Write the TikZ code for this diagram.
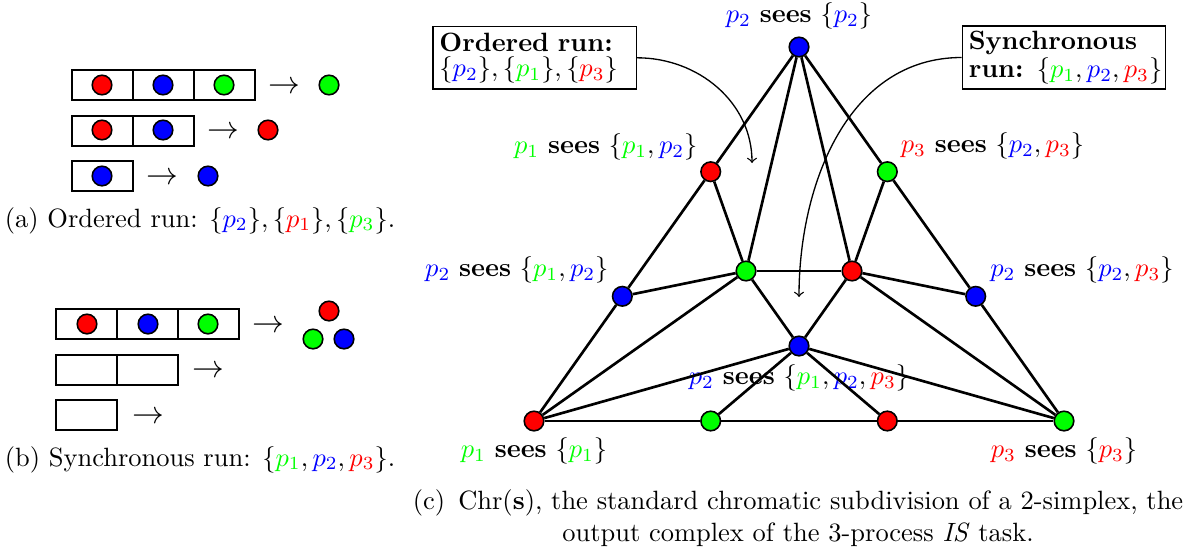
\documentclass[tikz,border=0pt]{standalone}
\usepackage{amsmath}
\usepackage{amssymb}
\usepackage{tikz}
\usetikzlibrary{positioning}

\newcommand{\pG}[1]{\textcolor{green}{p_{#1}}}
\newcommand{\pB}[1]{\textcolor{blue}{p_{#1}}}
\newcommand{\pR}[1]{\textcolor{red}{p_{#1}}}

\tikzset{
  vert/.style={circle, draw, fill=#1, minimum size=7.4pt, inner sep=0pt, line width=0.6pt},
  edge/.style={line width=1pt},
  cell/.style={line width=1pt},
  lbl/.style={inner sep=0pt},
  runbox/.style={draw, line width=0.6pt, align=left, text width=72pt, inner xsep=2.4pt, inner ysep=2pt, minimum height=23.6pt},
  goes/.style={font=\large},
}

\begin{document}
\begin{tikzpicture}[x=0.378pt,y=-0.378pt]
	\useasboundingbox (0,0) rectangle (1197,552);

	% (a) ordered run
	\foreach \n/\y in {3/70,2/116,1/161}
		\foreach \i in {1,...,\n}
			\draw[cell] (11+61*\i,\y) rectangle ++(61,30);
	\node[vert=red] (a11) at (102,85) {};
	\node[vert=blue] (a12) at (163,85) {};
	\node[vert=green] (a13) at (224,85) {};
	\node[goes] (a1to) at (284,88) {$\rightarrow$};
	\node[vert=green] (a1out) at (329,85) {};
	\node[vert=red] (a21) at (102,130) {};
	\node[vert=blue] (a22) at (163,130) {};
	\node[goes] (a2to) at (223,133) {$\rightarrow$};
	\node[vert=red] (a2out) at (268,130) {};
	\node[vert=blue] (a31) at (102,176) {};
	\node[goes] (a3to) at (162,179) {$\rightarrow$};
	\node[vert=blue] (a3out) at (208,176) {};
	\node[anchor=base] (capa) at (200,227) {(a) Ordered run: $\{\pB2\}, \{\pR1\}, \{\pG3\}$.};

	% (b) synchronous run
	\foreach \n/\y in {3/309,2/355,1/400}
		\foreach \i in {1,...,\n}
			\draw[cell] (-5+61*\i,\y) rectangle ++(61,30);
	\node[vert=red] (b11) at (87,324) {};
	\node[vert=blue] (b12) at (148,324) {};
	\node[vert=green] (b13) at (208,324) {};
	\node[goes] (b1to) at (268,327) {$\rightarrow$};
	\node[vert=red] (b1r) at (329,311) {};
	\node[vert=green] (b1g) at (313,339) {};
	\node[vert=blue] (b1b) at (344,339) {};
	\node[goes] (b2to) at (208,372) {$\rightarrow$};
	\node[goes] (b3to) at (148,418) {$\rightarrow$};
	\node[anchor=base] (capb) at (200,466) {(b) Synchronous run: $\{\pG1, \pB2, \pR3\}$.};

	% (c) chromatic subdivision
	\node[vert=blue] (vT) at (799,47) {};
	\node[vert=red] (vBL) at (534,421) {};
	\node[vert=green] (vBR) at (1064,421) {};
	\node[vert=red] (vL1) at (710.7,171.7) {};
	\node[vert=blue] (vL2) at (622.3,296.3) {};
	\node[vert=green] (vR1) at (887.3,171.7) {};
	\node[vert=blue] (vR2) at (975.7,296.3) {};
	\node[vert=green] (vB1) at (710.7,421) {};
	\node[vert=red] (vB2) at (887.3,421) {};
	\node[vert=green] (cg) at (746,271) {};
	\node[vert=red] (cr) at (852,271) {};
	\node[vert=blue] (cb) at (799,346) {};

	\node[lbl, above=2.5pt of vT] (lT) {$\pB2$ \textbf{sees} $\{\pB2\}$};
	\node[lbl, above left=1.5pt and 2pt of vL1] (lL1) {$\pG1$ \textbf{sees} $\{\pG1, \pB2\}$};
	\node[lbl, above left=1.9pt and 2.2pt of vL2] (lL2) {$\pB2$ \textbf{sees} $\{\pG1, \pB2\}$};
	\node[lbl, above right=1.9pt and 2.1pt of vR1] (lR1) {$\pR3$ \textbf{sees} $\{\pB2, \pR3\}$};
	\node[lbl, above right=1.9pt and 2.5pt of vR2] (lR2) {$\pB2$ \textbf{sees} $\{\pB2, \pR3\}$};
	\node[lbl, below=3pt of cb] (lc) {$\pB2$ \textbf{sees} $\{\pG1, \pB2, \pR3\}$};
	\node[lbl, below=2pt of vBL] (lBL) {$\pG1$ \textbf{sees} $\{\pG1\}$};
	\node[lbl, below=2pt of vBR] (lBR) {$\pR3$ \textbf{sees} $\{\pR3\}$};

	\foreach \a/\b in {vT/vL1, vL1/vL2, vL2/vBL, vBL/vB1, vB1/vB2, vB2/vBR, vBR/vR2, vR2/vR1, vR1/vT,
		vT/cg, vT/cr, vL1/cg, vL2/cg, vBL/cg, vBL/cb, vB1/cb, vB2/cb, vBR/cb, vBR/cr, vR2/cr, vR1/cr,
		cg/cr, cg/cb, cr/cb}
		\draw[edge] (\a) -- (\b);

	\node[runbox] (ordbox) at (534.7,57.8) {\textbf{Ordered run:}\\[-2.5pt]\mbox{$\{\pB2\}, \{\pG1\}, \{\pR3\}$}};
	\node[runbox] (syncbox) at (1064,57.5) {\textbf{Synchronous}\\[-1.5pt]\mbox{\textbf{run:} $\{\pG1, \pB2, \pR3\}$}};
	\coordinate (ordtip) at (752,163);
	\coordinate (synctip) at (799,297);
	\draw[->, line width=0.5pt] (ordbox.east) to[out=0,in=90] (ordtip);
	\draw[->, line width=0.5pt] (syncbox.west) to[out=180,in=90] (synctip);

	\node[align=center, inner sep=0pt] (capc) at (798,518) {(c)\enspace $\mathrm{Chr}(\mathbf{s})$, the standard chromatic subdivision of a 2-simplex, the\\ output complex of the 3-process \textit{IS} task.};
\end{tikzpicture}
\end{document}
